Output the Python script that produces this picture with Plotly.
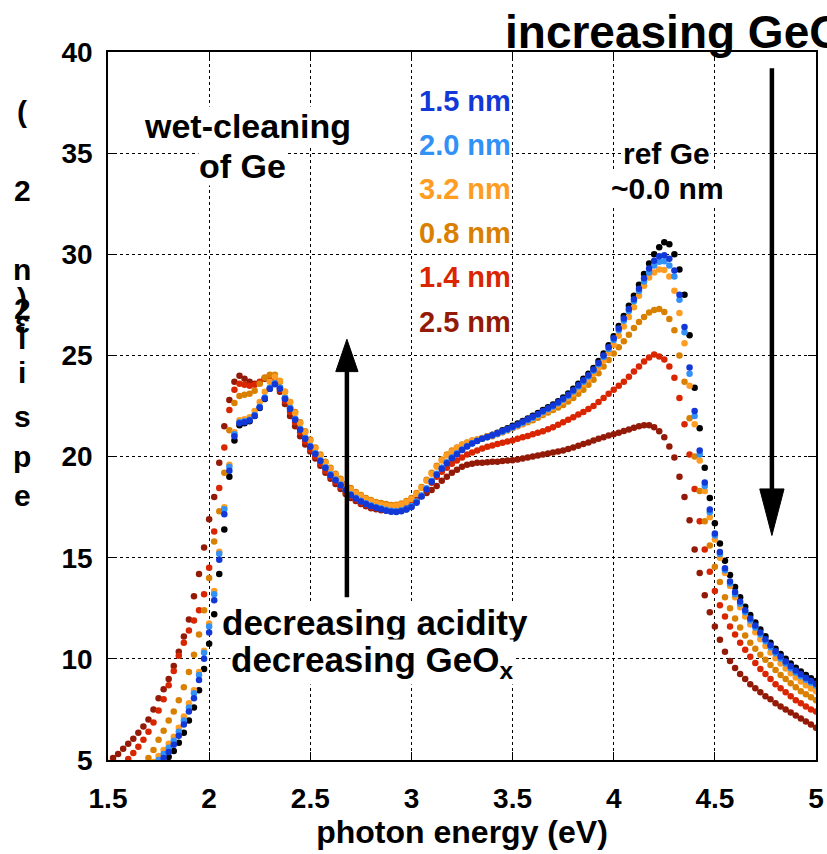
import plotly.graph_objects as go

FONT = "Liberation Sans, Arial, sans-serif"

# photon energy grid (eV), 0.025 eV step from 1.5 to 5.0
energy = [round(1.5 + 0.025 * i, 3) for i in range(141)]

ref_ge = [None, None, None, None, None, None, None, None, None, None,
          None, 4.8, 5.15, 5.45, 5.85, 6.35, 6.95, 7.6, 8.45, 9.5,
          10.75, 12.2, 14.2, 16.4, 19.0, 20.8, 21.55, 21.65, 21.75, 22.0,
          22.4, 22.85, 23.35, 23.6, 23.4, 22.9, 22.4, 21.85, 21.35, 20.9,
          20.5, 20.15, 19.8, 19.45, 19.1, 18.85, 18.6, 18.35, 18.12, 17.95,
          17.8, 17.67, 17.57, 17.5, 17.43, 17.35, 17.3, 17.28, 17.32, 17.4,
          17.52, 17.75, 18.05, 18.4, 18.78, 19.12, 19.43, 19.7, 19.95, 20.15,
          20.35, 20.52, 20.67, 20.8, 20.9, 21.0, 21.08, 21.18, 21.3, 21.4,
          21.52, 21.63, 21.76, 21.88, 22.02, 22.16, 22.3, 22.44, 22.58, 22.74,
          22.92, 23.12, 23.35, 23.6, 23.85, 24.1, 24.38, 24.72, 25.1, 25.5,
          25.95, 26.45, 26.95, 27.45, 27.95, 28.5, 29.02, 29.55, 30.0, 30.35,
          30.6, 30.5, 30.0, 29.25, 28.0, 26.0, 23.4, 21.4, 19.45, 17.95,
          16.7, 15.7, 14.85, 14.15, 13.55, 13.05, 12.58, 12.17, 11.8, 11.45,
          11.12, 10.8, 10.5, 10.24, 10.0, 9.77, 9.56, 9.37, 9.2, 9.04,
          8.9]

nm_1_5 = [None, None, None, None, None, None, None, None, None, None,
          4.8, 5.1, 5.4, 5.75, 6.2, 6.75, 7.4, 8.05, 8.95, 10.0,
          11.3, 12.9, 14.9, 17.15, 19.3, 21.0, 21.65, 21.7, 21.78, 22.02,
          22.42, 22.87, 23.35, 23.58, 23.35, 22.85, 22.35, 21.82, 21.32, 20.88,
          20.48, 20.13, 19.78, 19.43, 19.08, 18.83, 18.58, 18.33, 18.1, 17.93,
          17.78, 17.65, 17.55, 17.47, 17.4, 17.32, 17.27, 17.26, 17.3, 17.38,
          17.5, 17.72, 18.02, 18.37, 18.75, 19.1, 19.4, 19.67, 19.92, 20.12,
          20.32, 20.5, 20.65, 20.77, 20.88, 20.97, 21.05, 21.15, 21.26, 21.36,
          21.48, 21.59, 21.72, 21.84, 21.97, 22.11, 22.25, 22.39, 22.53, 22.69,
          22.86, 23.06, 23.28, 23.52, 23.77, 24.02, 24.3, 24.63, 25.0, 25.4,
          25.85, 26.33, 26.82, 27.3, 27.78, 28.3, 28.82, 29.3, 29.68, 29.9,
          29.95, 29.78, 29.2, 28.0, 26.4, 24.4, 22.25, 20.3, 18.72, 17.38,
          16.2, 15.28, 14.48, 13.82, 13.3, 12.83, 12.4, 12.0, 11.65, 11.3,
          10.97, 10.67, 10.38, 10.12, 9.87, 9.64, 9.43, 9.24, 9.07, 8.91,
          8.77]

nm_2_0 = [None, None, None, None, None, None, None, None, None, None,
          5.0, 5.3, 5.6, 5.95, 6.4, 6.95, 7.6, 8.3, 9.2, 10.3,
          11.6, 13.2, 15.2, 17.4, 19.5, 21.1, 21.7, 21.75, 21.82, 22.06,
          22.46, 22.92, 23.4, 23.62, 23.4, 22.9, 22.4, 21.86, 21.36, 20.92,
          20.52, 20.17, 19.82, 19.47, 19.12, 18.87, 18.62, 18.37, 18.14, 17.97,
          17.82, 17.69, 17.59, 17.51, 17.44, 17.37, 17.32, 17.31, 17.35, 17.43,
          17.56, 17.78, 18.08, 18.43, 18.8, 19.15, 19.45, 19.72, 19.96, 20.16,
          20.35, 20.52, 20.66, 20.78, 20.88, 20.96, 21.04, 21.13, 21.23, 21.33,
          21.44, 21.55, 21.67, 21.79, 21.92, 22.06, 22.2, 22.34, 22.48, 22.64,
          22.81, 23.0, 23.22, 23.46, 23.7, 23.96, 24.24, 24.56, 24.92, 25.32,
          25.76, 26.24, 26.72, 27.2, 27.68, 28.18, 28.66, 29.1, 29.45, 29.63,
          29.65, 29.45, 28.9, 27.75, 26.15, 24.1, 22.0, 20.1, 18.55, 17.25,
          16.1, 15.18, 14.38, 13.72, 13.2, 12.73, 12.3, 11.9, 11.55, 11.2,
          10.87, 10.57, 10.28, 10.02, 9.77, 9.54, 9.33, 9.14, 8.97, 8.82,
          8.68]

nm_3_2 = [None, None, None, None, None, None, None, None, None, 4.9,
          5.2, 5.5, 5.8, 6.15, 6.6, 7.15, 7.8, 8.45, 9.35, 10.4,
          11.75, 13.35, 15.3, 17.5, 19.6, 21.2, 21.8, 21.85, 21.95, 22.25,
          22.7, 23.2, 23.7, 23.95, 23.75, 23.2, 22.7, 22.15, 21.65, 21.2,
          20.8, 20.4, 20.05, 19.7, 19.4, 19.1, 18.85, 18.6, 18.38, 18.2,
          18.05, 17.9, 17.8, 17.7, 17.63, 17.58, 17.55, 17.57, 17.63, 17.75,
          17.9, 18.15, 18.45, 18.8, 19.15, 19.5, 19.8, 20.05, 20.25, 20.42,
          20.57, 20.68, 20.78, 20.85, 20.92, 21.0, 21.06, 21.13, 21.2, 21.3,
          21.42, 21.52, 21.63, 21.75, 21.87, 22.0, 22.13, 22.26, 22.4, 22.55,
          22.72, 22.9, 23.1, 23.33, 23.57, 23.82, 24.1, 24.4, 24.75, 25.12,
          25.52, 25.97, 26.43, 26.9, 27.38, 27.95, 28.45, 28.85, 29.1, 29.25,
          29.22, 28.9, 28.2, 27.1, 25.6, 23.5, 21.6, 19.8, 18.3, 17.0,
          15.9, 15.0, 14.25, 13.6, 13.05, 12.55, 12.1, 11.7, 11.32, 10.97,
          10.63, 10.32, 10.03, 9.77, 9.52, 9.29, 9.08, 8.88, 8.7, 8.54,
          8.4]

nm_0_8 = [None, None, None, None, None, None, None, None, 5.1, 5.5,
          6.0, 6.45, 6.95, 7.4, 7.95, 8.6, 9.35, 10.2, 11.2, 12.4,
          14.0, 15.8, 17.3, 19.2, 21.3, 22.65, 23.0, 23.05, 23.1, 23.25,
          23.6, 23.9, 24.05, 24.05, 23.7, 23.2, 22.7, 22.2, 21.7, 21.25,
          20.85, 20.45, 20.1, 19.75, 19.45, 19.15, 18.9, 18.65, 18.45, 18.25,
          18.1, 17.95, 17.85, 17.75, 17.7, 17.65, 17.6, 17.62, 17.68, 17.8,
          17.95, 18.2, 18.5, 18.85, 19.2, 19.55, 19.85, 20.1, 20.3, 20.45,
          20.6, 20.7, 20.8, 20.85, 20.9, 20.95, 21.0, 21.1, 21.2, 21.3,
          21.4, 21.5, 21.6, 21.7, 21.8, 21.92, 22.05, 22.18, 22.3, 22.42,
          22.55, 22.72, 22.9, 23.1, 23.3, 23.55, 23.8, 24.12, 24.45, 24.78,
          25.1, 25.4, 25.7, 26.02, 26.35, 26.65, 26.9, 27.12, 27.25, 27.3,
          27.15, 26.8, 26.25, 25.0, 23.7, 21.9, 20.0, 18.3, 16.8, 15.6,
          14.55, 13.8, 13.05, 12.5, 12.0, 11.55, 11.15, 10.8, 10.5, 10.2,
          9.95, 9.7, 9.45, 9.2, 9.0, 8.8, 8.6, 8.4, 8.25, 8.1,
          7.95]

nm_1_4 = [None, None, None, 4.75, 5.05, 5.35, 5.65, 6.0, 6.4, 6.85,
          7.45, 8.0, 8.7, 9.4, 10.15, 10.8, 11.4, 11.9, 12.4, 13.2,
          14.5, 16.3, 18.45, 20.45, 22.3, 23.3, 23.6, 23.55, 23.5, 23.55,
          23.7, 23.9, 24.0, 23.85, 23.3, 22.75, 22.2, 21.7, 21.2, 20.75,
          20.35, 20.0, 19.65, 19.3, 19.0, 18.75, 18.5, 18.25, 18.05, 17.88,
          17.72, 17.6, 17.5, 17.45, 17.4, 17.38, 17.38, 17.4, 17.45, 17.52,
          17.62, 17.8, 18.05, 18.35, 18.7, 19.0, 19.25, 19.45, 19.65, 19.8,
          19.95, 20.1, 20.2, 20.3, 20.4, 20.48, 20.55, 20.62, 20.68, 20.75,
          20.8, 20.88, 20.95, 21.02, 21.1, 21.18, 21.25, 21.35, 21.45, 21.57,
          21.7, 21.82, 21.95, 22.08, 22.2, 22.35, 22.5, 22.7, 22.9, 23.1,
          23.3, 23.5, 23.7, 23.95, 24.2, 24.45, 24.7, 24.9, 25.05, 24.95,
          24.8, 24.45, 23.9, 22.9, 21.6, 20.1, 18.4, 16.8, 15.4, 14.3,
          13.35, 12.65, 12.1, 11.6, 11.2, 10.8, 10.45, 10.1, 9.8, 9.5,
          9.25, 9.0, 8.75, 8.55, 8.35, 8.15, 7.95, 7.8, 7.65, 7.5,
          7.4]

nm_2_5 = [4.85, 5.1, 5.3, 5.55, 5.8, 6.05, 6.35, 6.65, 7.0, 7.5,
          8.05, 8.5, 9.0, 9.65, 10.35, 11.1, 11.95, 13.1, 14.2, 15.5,
          16.9, 18.0, 19.7, 21.5, 22.8, 23.7, 24.0, 23.85, 23.7, 23.6,
          23.65, 23.85, 24.0, 23.8, 23.2, 22.6, 22.0, 21.5, 21.0, 20.6,
          20.25, 19.9, 19.55, 19.2, 18.9, 18.65, 18.4, 18.15, 17.95, 17.8,
          17.65, 17.55, 17.45, 17.4, 17.35, 17.35, 17.35, 17.4, 17.45, 17.55,
          17.7, 17.88, 18.05, 18.2, 18.35, 18.55, 18.8, 19.0, 19.2, 19.35,
          19.5, 19.6, 19.65, 19.7, 19.7, 19.72, 19.75, 19.75, 19.78, 19.8,
          19.82, 19.86, 19.9, 19.95, 20.0, 20.05, 20.1, 20.15, 20.2, 20.25,
          20.3, 20.38, 20.45, 20.53, 20.62, 20.7, 20.8, 20.88, 20.96, 21.04,
          21.1, 21.18, 21.26, 21.34, 21.42, 21.5, 21.55, 21.55, 21.45, 21.25,
          20.95, 20.5, 19.95, 19.0, 18.0, 16.85, 15.4, 14.25, 13.15, 12.3,
          11.6, 10.95, 10.35, 9.9, 9.55, 9.25, 9.0, 8.75, 8.55, 8.35,
          8.15, 8.0, 7.8, 7.65, 7.5, 7.35, 7.2, 7.05, 6.9, 6.75,
          6.6]

series_labels = ["ref Ge", "2.5 nm", "1.4 nm", "0.8 nm", "3.2 nm", "2.0 nm", "1.5 nm"]
series_values = [ref_ge, nm_2_5, nm_1_4, nm_0_8, nm_3_2, nm_2_0, nm_1_5]
series_colors = ["#000000", "#931a06", "#d92600", "#d98000", "#ff9c22", "#3191f7", "#1238d8"]

legend_order = ["1.5 nm", "2.0 nm", "3.2 nm", "0.8 nm", "1.4 nm", "2.5 nm"]
legend_colors = ["#1238d8", "#3191f7", "#ff9c22", "#d98000", "#d92600", "#931a06"]

x_ticks = [1.5, 2, 2.5, 3, 3.5, 4, 4.5, 5]
x_ticktext = ["1.5", "2", "2.5", "3", "3.5", "4", "4.5", "5"]
y_ticks = [5, 10, 15, 20, 25, 30, 35, 40]

fig = go.Figure()
for lab, vals, col in zip(series_labels, series_values, series_colors):
    fig.add_trace(go.Scatter(x=energy, y=vals, mode="markers", name=lab,
                             marker=dict(size=6.5, color=col, line=dict(width=0))))

# layout geometry (pixels)
L, R, T, B = 108, 11, 52, 94
W, H = 827, 854
PW, PH = W - L - R, H - T - B


def px(xp):
    return (xp - L) / PW


def py(yp):
    return (H - B - yp) / PH


def ann(text, xp, yp, size, color="black", xanchor="center", bg="white"):
    a = dict(text="<b>" + text + "</b>", x=px(xp), y=py(yp), xref="paper", yref="paper",
             showarrow=False, xanchor=xanchor, yanchor="middle",
             font=dict(family=FONT, size=size, color=color), borderpad=0)
    if bg:
        a["bgcolor"] = bg
    return a


annotations = [
    ann("wet-cleaning", 247, 126, 34),
    ann("of Ge", 242, 166, 34),
    ann("ref Ge", 666, 154, 30),
    ann("~0.0 nm", 667, 188, 30),
    ann("decreasing acidity", 375, 622, 35),
    ann("decreasing GeO<sub>x</sub>", 372, 662, 35),
]
leg_y = [101, 145, 189, 233, 277, 322]
for lab, col, yy in zip(legend_order, legend_colors, leg_y):
    annotations.append(ann(lab, 418, yy, 29, color=col, xanchor="left"))

# vertical (garbled) axis label characters
ylab_chars = [("(", 111), ("2", 190), ("n", 269), (")", 298), ("2", 309), ("ɛ", 322),
              ("l", 338), ("i", 372), ("s", 416), ("p", 456), ("e", 495)]
for ch, yy in ylab_chars:
    annotations.append(ann(ch, 22, yy, 30, bg=None))

# arrows (data coordinates)
UP_X, UP_Y0, UP_YB, UP_TIP, UP_HW = 2.681, 13.05, 24.2, 25.8, 0.055
DN_X, DN_Y0, DN_YB, DN_TIP, DN_HW = 4.782, 39.2, 18.4, 16.1, 0.06
shapes = [
    dict(type="line", x0=UP_X, x1=UP_X, y0=UP_Y0, y1=UP_YB, xref="x", yref="y",
         line=dict(color="black", width=4.5)),
    dict(type="path", xref="x", yref="y", fillcolor="black", line=dict(color="black", width=1),
         path=f"M {UP_X-UP_HW},{UP_YB} L {UP_X+UP_HW},{UP_YB} L {UP_X},{UP_TIP} Z"),
    dict(type="line", x0=DN_X, x1=DN_X, y0=DN_Y0, y1=DN_YB, xref="x", yref="y",
         line=dict(color="black", width=4.5)),
    dict(type="path", xref="x", yref="y", fillcolor="black", line=dict(color="black", width=1),
         path=f"M {DN_X-DN_HW},{DN_YB} L {DN_X+DN_HW},{DN_YB} L {DN_X},{DN_TIP} Z"),
]

axis_common = dict(showline=True, linecolor="black", linewidth=1.5, mirror="ticks",
                   ticks="inside", ticklen=8, tickcolor="black", tickwidth=1,
                   showgrid=True, gridcolor="black", gridwidth=1, griddash="3px,3px",
                   zeroline=False, automargin=False,
                   tickfont=dict(family=FONT, size=28, color="black", weight="bold"))

fig.update_layout(
    width=W, height=H,
    margin=dict(l=L, r=R, t=T, b=B, pad=0, autoexpand=False),
    paper_bgcolor="white", plot_bgcolor="white",
    showlegend=False,
    title=dict(text="<b>increasing GeO<sub>x</sub></b>", xref="container", yref="container",
               x=505 / W, xanchor="left", y=1 - 32 / H, yanchor="middle",
               font=dict(family=FONT, size=46, color="black")),
    annotations=annotations,
    shapes=shapes,
    xaxis=dict(range=[1.5, 5], tickvals=x_ticks, ticktext=x_ticktext,
               ticklabelstandoff=13,
               title=dict(text="<b>photon energy (eV)</b>", standoff=2,
                          font=dict(family=FONT, size=32, color="black")),
               **axis_common),
    yaxis=dict(range=[5, 40], tickvals=y_ticks, ticklabelstandoff=8, **axis_common),
)

fig.write_html("out.html")
